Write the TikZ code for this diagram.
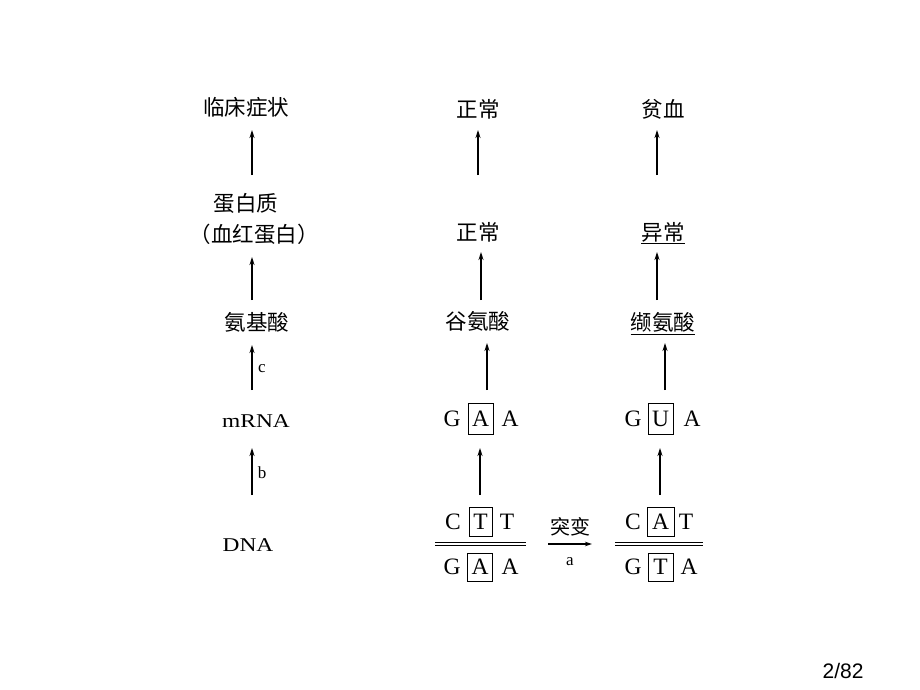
\documentclass[tikz,border=0pt]{standalone}
\usepackage{fontspec}
\setmainfont{Liberation Serif}
\newfontfamily\cjk{Noto Sans CJK SC}
\newfontfamily\widefont[FakeStretch=1.2]{Liberation Serif}
\newfontfamily\pgsans{Liberation Sans}
\usetikzlibrary{arrows.meta}
\begin{document}
\begin{tikzpicture}[x=1pt,y=-1pt,
  cn/.style={font=\cjk\fontsize{21.5}{24}\selectfont, inner sep=0pt},
  lt/.style={font=\fontsize{23.5}{26}\selectfont, inner sep=0pt},
  wd/.style={font=\widefont\fontsize{19.5}{22}\selectfont, inner sep=0pt},
  sm/.style={font=\fontsize{17}{19}\selectfont, inner sep=0pt},
  bx/.style={lt, draw, line width=0.8pt, minimum width=25pt, minimum height=31pt},
  arr/.style={line width=1.3pt, -{Stealth[length=8pt,width=5pt]}},
  dl/.style={line width=0.8pt},
  ul/.style={line width=0.8pt}]
\useasboundingbox[fill=white] (0,0) rectangle (920,690);

% column 1
\node[cn] (clin) at (246,107) {临床症状};
\node[cn] (prot) at (246,203) {蛋白质};
\node[cn] (hb) at (254,234) {（血红蛋白）};
\node[cn] (aa) at (257,322) {氨基酸};
\node[wd] (mrna) at (256,421) {mRNA};
\node[wd] (dna) at (248,545) {DNA};
\node[sm] (lc) at (262,369) {c};
\node[sm] (lb) at (262,473) {b};

\draw[arr, shorten <=28pt, shorten >=23pt] (252,0 |- prot) -- (252,0 |- clin);
\draw[arr, shorten <=22pt, shorten >=23pt] (252,0 |- aa) -- (252,0 |- hb);
\draw[arr, shorten <=31pt, shorten >=23pt] (252,0 |- mrna) -- (252,0 |- aa);
\draw[arr, shorten <=50pt, shorten >=27pt] (252,0 |- dna) -- (252,0 |- mrna);

% column 2
\node[cn] (n2a) at (478,109) {正常};
\node[cn] (n2b) at (478,232) {正常};
\node[cn] (glu) at (478,321) {谷氨酸};
\node[lt] (g1) at (452,419) {G};
\node[bx] (a1) at (480.5,419) {A};
\node[lt] (a2) at (510,419) {A};
\node[lt] (c1) at (453,521.5) {C};
\node[bx, minimum width=23pt, minimum height=29pt] (t1) at (480.5,521.5) {T};
\node[lt] (t2) at (507,521.5) {T};
\node[lt] (g2) at (452,567) {G};
\node[bx, minimum height=28pt] (a3) at (480,567) {A};
\node[lt] (a4) at (510,567) {A};

\draw[arr, shorten <=57pt, shorten >=21pt] (478,0 |- n2b) -- (478,0 |- n2a);
\draw[arr, shorten <=21pt, shorten >=20pt] (481,0 |- glu) -- (481,0 |- n2b);
\draw[arr, shorten <=29pt, shorten >=22pt] (487,0 |- a1) -- (487,0 |- glu);
\draw[arr, shorten <=26.5pt, shorten >=29pt] (480,0 |- t1) -- (480,0 |- a1);

% column 3
\node[cn] (n3a) at (663,109) {贫血};
\node[cn] (n3b) at (663,232) {异常};
\node[cn] (val) at (663,322) {缬氨酸};
\node[lt] (g3) at (633,419) {G};
\node[bx] (u1) at (660.5,419) {U};
\node[lt] (a5) at (692,419) {A};
\node[lt] (c2) at (633,521.5) {C};
\node[bx, minimum width=27pt, minimum height=29pt] (a6) at (660.5,521.5) {A};
\node[lt] (t3) at (686,521.5) {T};
\node[lt] (g4) at (633,567) {G};
\node[bx, minimum height=28pt] (t4) at (660.5,567) {T};
\node[lt] (a7) at (689,567) {A};

\draw[ul] ([yshift=-1pt]n3b.south west) -- ([yshift=-1pt]n3b.south east);
\draw[ul] ([yshift=-2pt]val.south west) -- ([yshift=-2pt]val.south east);

\draw[arr, shorten <=57pt, shorten >=21pt] (657,0 |- n3b) -- (657,0 |- n3a);
\draw[arr, shorten <=22pt, shorten >=20pt] (657,0 |- val) -- (657,0 |- n3b);
\draw[arr, shorten <=29pt, shorten >=21pt] (665,0 |- u1) -- (665,0 |- val);
\draw[arr, shorten <=26.5pt, shorten >=29pt] (660,0 |- a6) -- (660,0 |- u1);

% double strands
\coordinate (l2w) at (435,544);
\coordinate (l2e) at (526,544);
\coordinate (l3w) at (615,544);
\coordinate (l3e) at (703,544);
\draw[dl] ([yshift=1.5pt]l2w) -- ([yshift=1.5pt]l2e);
\draw[dl] ([yshift=-1.5pt]l2w) -- ([yshift=-1.5pt]l2e);
\draw[dl] ([yshift=1.5pt]l3w) -- ([yshift=1.5pt]l3e);
\draw[dl] ([yshift=-1.5pt]l3w) -- ([yshift=-1.5pt]l3e);

% mutation arrow
\node[cn, font=\cjk\fontsize{20}{22}\selectfont] (mut) at (570,527) {突变};
\node[sm] (la) at (570,562) {a};
\draw[line width=1.1pt, -{Stealth[length=7pt,width=4.5pt]}, shorten <=22pt, shorten >=23pt] (l2e) -- (l3w);

% page number
\node[font=\pgsans\fontsize{21}{24}\selectfont, inner sep=0pt] (pg) at (843,671) {2/82};
\end{tikzpicture}
\end{document}
